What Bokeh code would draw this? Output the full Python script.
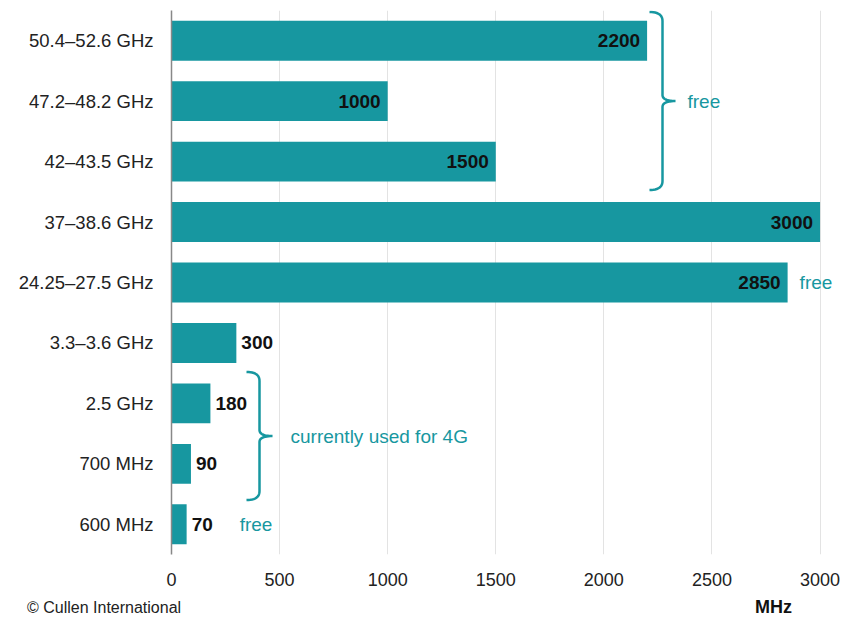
from bokeh.plotting import figure
from bokeh.models import ColumnDataSource, FactorRange, Range1d, FixedTicker, Div
from bokeh.layouts import column
from bokeh.core.properties import value
from bokeh.embed import file_html
from bokeh.resources import INLINE

# ---- data ----
categories = ["600 MHz", "700 MHz", "2.5 GHz", "3.3–3.6 GHz", "24.25–27.5 GHz",
              "37–38.6 GHz", "42–43.5 GHz", "47.2–48.2 GHz", "50.4–52.6 GHz"]
values_mhz = [70, 90, 180, 300, 2850, 3000, 1500, 1000, 2200]
x_ticks = [0, 500, 1000, 1500, 2000, 2500, 3000]

# brace groups (index ranges in categories) and their notes
brace_groups = [(6, 8), (1, 2)]
brace_notes = ["free", "currently used for 4G"]
single_notes_idx = [4, 0]
single_notes = ["free", "free"]
source_note = "© Cullen International"
unit_label = "MHz"

TEAL = "#1797a0"
FONT = "Liberation Sans"

W, H, FOOT = 849, 595, 22
LEFT, RIGHT, TOP, BOTTOM = 171, 10, 10, 41
XMAX = 3090
frame_w = W - LEFT - RIGHT
frame_h = H - TOP - BOTTOM
kx = XMAX / frame_w             # data units per px (x)
ky = len(categories) / frame_h  # synthetic units per px (y)

p = figure(width=W, height=H, output_backend="svg", toolbar_location=None,
           y_range=FactorRange(factors=categories, range_padding=0, factor_padding=0),
           x_range=Range1d(0, XMAX),
           min_border_left=LEFT, min_border_right=RIGHT, min_border_top=TOP,
           min_border_bottom=BOTTOM)
p.outline_line_color = None
p.background_fill_color = "white"

src = ColumnDataSource(dict(cat=categories, val=values_mhz))
p.hbar(y="cat", right="val", left=0, height=0.66, source=src,
       fill_color=TEAL, line_color=None)

# value labels
inside = [v >= 1000 for v in values_mhz]
lab = ColumnDataSource(dict(
    y=categories, x=values_mhz, t=[str(v) for v in values_mhz],
    align=["right" if i else "left" for i in inside],
    xo=[-7 if i else 5 for i in inside]))
p.text(x="x", y="y", text="t", source=lab, text_align="align", x_offset="xo",
       text_baseline="middle", text_font=value(FONT), text_font_style="bold",
       text_font_size="19px", text_color="#111111")

# braces
def qbez(p0, c, p2, n=12):
    pts = []
    for i in range(n + 1):
        t = i / n
        x = (1 - t) ** 2 * p0[0] + 2 * (1 - t) * t * c[0] + t ** 2 * p2[0]
        y = (1 - t) ** 2 * p0[1] + 2 * (1 - t) * t * c[1] + t ** 2 * p2[1]
        pts.append((x, y))
    return pts

def brace(xd, y0, y1, w=13, r=9, tip=13, r2=6):
    ym = (y0 + y1) / 2
    wx, tx = w * kx, tip * kx
    ry, r2y = r * ky, r2 * ky
    pts = []
    pts += qbez((xd - wx, y0), (xd, y0), (xd, y0 + ry))
    pts += qbez((xd, ym - r2y), (xd, ym), (xd + tx, ym))
    pts += qbez((xd + tx, ym), (xd, ym), (xd, ym + r2y))
    pts += qbez((xd, y1 - ry), (xd, y1), (xd - wx, y1))
    return [a for a, b in pts], [b for a, b in pts]

brace_px = [662, 259]          # brace x position in px from left edge
brace_pad = [(0.47, 0.475), (0.6, 0.52)]
note_off = [25, 31]
for (lo, hi), note, bx, (plo, phi), off in zip(brace_groups, brace_notes, brace_px,
                                               brace_pad, note_off):
    xd = (bx - LEFT) * kx
    y0 = lo + 0.5 - plo
    y1 = hi + 0.5 + phi
    xs, ys = brace(xd, y0, y1)
    p.line(xs, ys, line_color=TEAL, line_width=2.5)
    p.text(x=[xd], y=[(y0 + y1) / 2], text=[note], x_offset=off,
           text_baseline="middle", text_align="left", text_font=value(FONT),
           text_font_size="19px", text_color=TEAL)

for idx, note, off in zip(single_notes_idx, single_notes, [12, 53]):
    p.text(x=[values_mhz[idx]], y=[categories[idx]], text=[note], x_offset=off,
           text_baseline="middle", text_align="left", text_font=value(FONT),
           text_font_size="19px", text_color=TEAL)

# axes
p.xaxis.ticker = FixedTicker(ticks=x_ticks)
p.xaxis.axis_line_color = None
p.xaxis.major_tick_line_color = None
p.xaxis.minor_tick_line_color = None
p.xaxis.major_tick_out = 0
p.xaxis.minor_tick_out = 0
p.xaxis.major_label_standoff = 18
p.xaxis.major_label_text_font = FONT
p.xaxis.major_label_text_font_size = "18px"
p.xaxis.major_label_text_color = "#222222"

p.yaxis.axis_line_color = "#888888"
p.yaxis.axis_line_width = 1.5
p.yaxis.major_tick_line_color = None
p.yaxis.minor_tick_line_color = None
p.yaxis.major_tick_out = 0
p.yaxis.minor_tick_out = 0
p.yaxis.major_label_standoff = 18
p.yaxis.major_label_text_font = FONT
p.yaxis.major_label_text_font_size = "18.5px"
p.yaxis.major_label_text_color = "#222222"

p.ygrid.grid_line_color = None
p.xgrid.grid_line_color = "#e3e3e3"
p.xgrid.grid_line_width = 1

footer_html = (
    f'<div style="position:relative;width:{W}px;height:{FOOT}px;'
    f'font-family:\'{FONT}\';">'
    f'<span style="position:absolute;left:27px;top:4px;font-size:16px;'
    f'line-height:18px;color:#222;white-space:nowrap;">{source_note}</span>'
    f'<span style="position:absolute;right:57px;top:3px;font-size:18px;'
    f'line-height:18px;font-weight:bold;color:#111;white-space:nowrap;">{unit_label}</span>'
    f'</div>'
)
footer = Div(text=footer_html, width=W, height=FOOT, margin=0)

layout = column(p, footer, spacing=0)
open("out.html", "w").write(file_html(layout, INLINE))
